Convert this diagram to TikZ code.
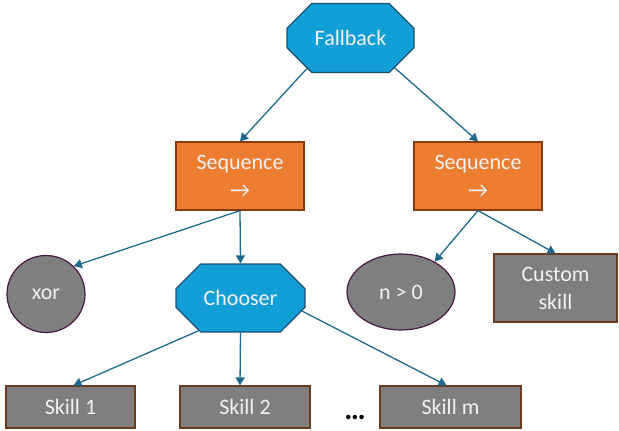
\documentclass[tikz,border=0pt]{standalone}
\usepackage{fontspec}
\setmainfont{Carlito}
\usetikzlibrary{shapes.misc,shapes.geometric,arrows.meta}
\definecolor{bfill}{HTML}{129FD7}
\definecolor{bdraw}{HTML}{1B4F6E}
\definecolor{ofill}{HTML}{ED7D31}
\definecolor{odraw}{HTML}{843C0C}
\definecolor{gfill}{HTML}{7F7F7F}
\definecolor{gdraw}{HTML}{6B3A1F}
\definecolor{edraw}{HTML}{4A1942}
\definecolor{acol}{HTML}{1F6A8C}
\definecolor{tcol}{HTML}{F2F2F2}
\tikzset{
  base/.style={inner sep=0pt, line width=1.2pt, text=tcol, font=\fontsize{22}{28}\selectfont, align=center},
  octbox/.style={base, chamfered rectangle, chamfered rectangle xsep=17pt, chamfered rectangle ysep=17pt, fill=bfill, draw=bdraw, minimum width=#1, minimum height=69pt},
  seqbox/.style={base, rectangle, fill=ofill, draw=odraw, minimum width=128pt, minimum height=68pt},
  skillbox/.style={base, rectangle, fill=gfill, draw=gdraw, minimum width=#1, minimum height=42pt},
  condell/.style={base, ellipse, fill=gfill, draw=edraw, minimum width=#1, minimum height=77pt},
  conn/.style={draw=acol, line width=1.3pt, -{Triangle[width=9pt,length=8pt]}}
}
\begin{document}
\begin{tikzpicture}[x=1pt,y=-1pt]
\useasboundingbox (0,0) rectangle (619,431);
\node[octbox=127pt] (fb) at (350.5,38) {Fallback};
\node[seqbox] (sl) at (240,176) {Sequence\\→};
\node[seqbox] (sr) at (478,176) {Sequence\\→};
\node[condell=78pt] (xor) at (46,294) {xor};
\node[octbox=129pt, minimum height=68pt] (ch) at (240.5,298) {Chooser};
\node[condell=108pt, minimum height=76pt] (n0) at (401,292) {n > 0};
\node[skillbox=123pt, minimum height=68pt] (cs) at (555.5,288) {Custom\\skill};
\node[skillbox=129pt] (s1) at (70.5,407) {Skill 1};
\node[skillbox=130pt] (s2) at (245,407) {Skill 2};
\node[skillbox=141pt] (sm) at (450.5,407) {Skill m};
\node[inner sep=0pt, font=\bfseries\fontsize{30}{30}\selectfont] (dots) at (355,417) {…};
\draw[conn] (fb.215) -- (sl.north);
\draw[conn] (fb.-34) -- (sr.north);
\draw[conn] (sl.south) -- (xor.45);
\draw[conn] (sl.south) -- (ch.north);
\draw[conn] (sr.south) -- (n0.42);
\draw[conn] (sr.south) -- (cs.north);
\draw[conn] (ch.218) -- ([xshift=3pt]s1.north);
\draw[conn] (ch.south) -- ([xshift=-5pt]s2.north);
\draw[conn] (ch.-12) -- ([xshift=-4pt]sm.north);
\end{tikzpicture}
\end{document}
